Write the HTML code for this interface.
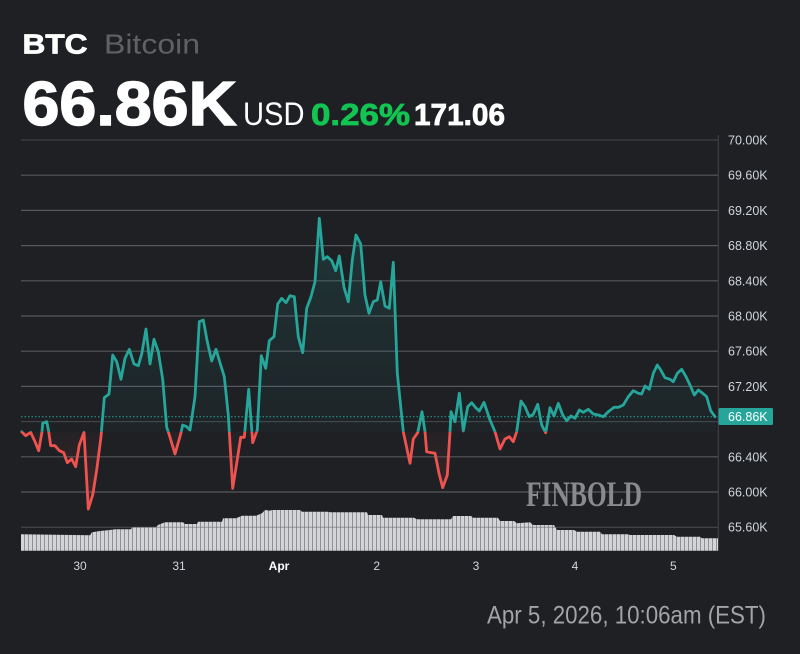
<!DOCTYPE html>
<html>
<head>
<meta charset="utf-8">
<style>
html,body{margin:0;padding:0;background:#1e2024;}
svg{display:block;}
</style>
</head>
<body>
<svg width="800" height="654" viewBox="0 0 800 654" xmlns="http://www.w3.org/2000/svg" font-family="'Liberation Sans', sans-serif">
<defs>
  <clipPath id="above"><rect x="0" y="0" width="800" height="431.7"/></clipPath>
  <clipPath id="below"><rect x="0" y="431.7" width="800" height="200"/></clipPath>
  <linearGradient id="gUp" gradientUnits="userSpaceOnUse" x1="0" y1="200" x2="0" y2="431.7">
    <stop offset="0" stop-color="#26a69a" stop-opacity="0.17"/>
    <stop offset="1" stop-color="#26a69a" stop-opacity="0.03"/>
  </linearGradient>
  <linearGradient id="gDn" gradientUnits="userSpaceOnUse" x1="0" y1="431.7" x2="0" y2="512">
    <stop offset="0" stop-color="#ef5350" stop-opacity="0.03"/>
    <stop offset="1" stop-color="#ef5350" stop-opacity="0.16"/>
  </linearGradient>
  <pattern id="vol" patternUnits="userSpaceOnUse" x="21" y="0" width="4" height="10">
    <rect x="0" y="0" width="4" height="10" fill="#8f9094"/>
    <rect x="0" y="0" width="3" height="10" fill="#d3d4d8"/>
  </pattern>
</defs>

<rect width="800" height="654" fill="#1e2024"/>

<!-- Header -->
<text x="22.5" y="53.3" font-size="28" font-weight="bold" fill="#ffffff" textLength="65" lengthAdjust="spacingAndGlyphs" stroke="#ffffff" stroke-width="0.8">BTC</text>
<text x="104" y="53.3" font-size="28" fill="#5f6165" textLength="96" lengthAdjust="spacingAndGlyphs">Bitcoin</text>
<text x="22.5" y="125" font-size="62" font-weight="bold" fill="#ffffff" textLength="214" lengthAdjust="spacingAndGlyphs" stroke="#ffffff" stroke-width="1.5">66.86K</text>
<text x="243" y="125" font-size="32" fill="#ffffff" textLength="61.5" lengthAdjust="spacingAndGlyphs">USD</text>
<text x="311" y="125" font-size="31" font-weight="bold" fill="#12c552" textLength="99" lengthAdjust="spacingAndGlyphs" stroke="#12c552" stroke-width="0.8">0.26%</text>
<text x="414" y="125" font-size="31" font-weight="bold" fill="#ffffff" textLength="91" lengthAdjust="spacingAndGlyphs" stroke="#ffffff" stroke-width="0.8">171.06</text>

<!-- Grid -->
<g stroke="#55575b" stroke-width="1.2">
  <line x1="21" y1="140" x2="718" y2="140" stroke="#3e4044"/>
  <line x1="21" y1="175.2" x2="718" y2="175.2"/>
  <line x1="21" y1="210.4" x2="718" y2="210.4"/>
  <line x1="21" y1="245.6" x2="718" y2="245.6"/>
  <line x1="21" y1="280.8" x2="718" y2="280.8"/>
  <line x1="21" y1="316" x2="718" y2="316"/>
  <line x1="21" y1="351.2" x2="718" y2="351.2"/>
  <line x1="21" y1="386.4" x2="718" y2="386.4"/>
  <line x1="21" y1="421.6" x2="718" y2="421.6" stroke="#404246"/>
  <line x1="21" y1="456.8" x2="718" y2="456.8"/>
  <line x1="21" y1="492" x2="718" y2="492"/>
</g>
<line x1="718.3" y1="135" x2="718.3" y2="551" stroke="#3e4044" stroke-width="1.2"/>

<!-- Watermark -->
<text x="526" y="506" font-family="'Liberation Serif', serif" font-size="36" font-weight="bold" fill="#8a8a8c" textLength="116" lengthAdjust="spacingAndGlyphs">FINBOLD</text>

<!-- Volume -->
<polygon fill="url(#vol)" points="21,550.7 21,534.3 90,535.3 92,532.3 100,531 110,530 115,529.3 131,529.3 132,527.3 156,527.3 158,525 165,522.3 183,522.3 185,524 197,524 198,521.7 222,521.7 223,518.3 236,518.3 242,515.7 256,515.7 262,513.3 265,510 272,511 270,510 300,510 302,511.7 328,511.7 330,512.3 367,512.3 368,515 382,515 383,517.7 414,517.7 417,519.3 451,519.3 453,516 471,516 473,517.7 498,517.7 500,521 514,521 517,523.3 530,522.3 533,525 554,525 557,530 574,530 577,531.7 600,531.7 602,534.3 628,534.3 630,535 674,535 677,536.7 700,536.7 702,538.3 718,538.3 718,550.7"/>
<line x1="21" y1="527.2" x2="718" y2="527.2" stroke="#6a6c70" stroke-width="1" opacity="0.6"/>

<!-- Fill areas -->
<polygon clip-path="url(#above)" fill="url(#gUp)" points="21.7,431.7 25.7,435.7 30.7,432.3 35,441.7 38.7,450.7 42,431.7 42.7,423.3 46.7,421.7 48.7,431.7 50.7,445.7 55,445.7 59.3,450.7 63.7,452.7 67.3,462.7 71.7,459 75.7,466.7 79.3,445 84,432.3 88.3,509 92.7,495 96.7,470 101,436.7 104.3,397.7 109,394 112.7,355 116.7,361.7 121,379.3 125,358.3 129.3,349.3 134,364 138.3,365.7 141.7,354 146,329 150,364 154,339.3 158.3,351.7 162.7,379.3 166.7,427.3 169,434 175,454 180.7,434 182.7,425 186.7,426.7 190,430 195,396.7 199.3,321.7 203.3,320 207.3,341.7 211.7,361 216,349.3 220.7,365 224.3,376.7 228.3,415 232.7,488.3 236.7,463.3 240.7,437.3 244.3,437.3 248.7,389.3 252.7,442.7 257.3,430 261.3,355.7 265.7,368.3 269.3,340.7 274,336.7 277.7,304 281.7,298.3 286,302.7 290,295.7 294.3,296.7 298.3,336.7 302.7,352.7 306.7,308.3 311,296.7 315,281.7 319.3,218.3 323.3,259.3 327.3,256.7 331.7,260.7 335.7,270.7 339.3,256 344,287.3 348.3,301.7 352.3,260 356,235 360.7,244 365,295 369,313.3 373.3,301.7 377.3,300 380.7,281.7 385,306 389.3,308.3 393.3,262.3 397.3,373.3 403.3,431.7 410,463.3 413.3,439 417.7,432.7 422,411.7 425,431.7 426.7,451.7 431.7,452.7 435,453.3 439,473.3 442.7,487.7 447.3,475 450,431.7 451,411.7 455,421.7 459.3,393.3 463.3,431 467.7,406.7 471.7,402.7 475.7,407.7 479.3,411 484,402.3 490,420 495,431.7 500,449 505,439 509.3,436.7 513.3,441.7 516.7,431.7 521,401 525,406.7 529.3,416.7 533.3,414.3 537.7,404.3 541.7,425 545.7,432.7 550,407.7 554,416 558.3,403.3 562.7,415 566.7,420.7 571,416 575,418.3 579.3,410 583.3,412.3 588.3,409.3 593.3,414 598.3,415 603.3,416.7 608.3,411.7 614,407.3 618.3,407.3 623.3,405 628.3,396.7 633.3,390.7 638.3,393.3 641.7,394 645,386 649.3,389.3 653.3,373.3 657.3,365 660.7,370 665,377.7 670,379.3 673.3,381.7 677.3,373.3 681.7,369.3 686,376.7 690,385 694.3,395 698.3,390 702.7,393.3 706.7,396.7 710.7,410.7 715,416.7 715,431.7"/>
<polygon clip-path="url(#below)" fill="url(#gDn)" points="21.7,431.7 25.7,435.7 30.7,432.3 35,441.7 38.7,450.7 42,431.7 42.7,423.3 46.7,421.7 48.7,431.7 50.7,445.7 55,445.7 59.3,450.7 63.7,452.7 67.3,462.7 71.7,459 75.7,466.7 79.3,445 84,432.3 88.3,509 92.7,495 96.7,470 101,436.7 104.3,397.7 109,394 112.7,355 116.7,361.7 121,379.3 125,358.3 129.3,349.3 134,364 138.3,365.7 141.7,354 146,329 150,364 154,339.3 158.3,351.7 162.7,379.3 166.7,427.3 169,434 175,454 180.7,434 182.7,425 186.7,426.7 190,430 195,396.7 199.3,321.7 203.3,320 207.3,341.7 211.7,361 216,349.3 220.7,365 224.3,376.7 228.3,415 232.7,488.3 236.7,463.3 240.7,437.3 244.3,437.3 248.7,389.3 252.7,442.7 257.3,430 261.3,355.7 265.7,368.3 269.3,340.7 274,336.7 277.7,304 281.7,298.3 286,302.7 290,295.7 294.3,296.7 298.3,336.7 302.7,352.7 306.7,308.3 311,296.7 315,281.7 319.3,218.3 323.3,259.3 327.3,256.7 331.7,260.7 335.7,270.7 339.3,256 344,287.3 348.3,301.7 352.3,260 356,235 360.7,244 365,295 369,313.3 373.3,301.7 377.3,300 380.7,281.7 385,306 389.3,308.3 393.3,262.3 397.3,373.3 403.3,431.7 410,463.3 413.3,439 417.7,432.7 422,411.7 425,431.7 426.7,451.7 431.7,452.7 435,453.3 439,473.3 442.7,487.7 447.3,475 450,431.7 451,411.7 455,421.7 459.3,393.3 463.3,431 467.7,406.7 471.7,402.7 475.7,407.7 479.3,411 484,402.3 490,420 495,431.7 500,449 505,439 509.3,436.7 513.3,441.7 516.7,431.7 521,401 525,406.7 529.3,416.7 533.3,414.3 537.7,404.3 541.7,425 545.7,432.7 550,407.7 554,416 558.3,403.3 562.7,415 566.7,420.7 571,416 575,418.3 579.3,410 583.3,412.3 588.3,409.3 593.3,414 598.3,415 603.3,416.7 608.3,411.7 614,407.3 618.3,407.3 623.3,405 628.3,396.7 633.3,390.7 638.3,393.3 641.7,394 645,386 649.3,389.3 653.3,373.3 657.3,365 660.7,370 665,377.7 670,379.3 673.3,381.7 677.3,373.3 681.7,369.3 686,376.7 690,385 694.3,395 698.3,390 702.7,393.3 706.7,396.7 710.7,410.7 715,416.7 715,431.7"/>

<!-- Current price dotted line -->
<line x1="21" y1="416.7" x2="718" y2="416.7" stroke="#26a69a" stroke-width="1" stroke-dasharray="1.5,2"/>

<!-- Line series (teal above baseline) -->
<polyline fill="none" stroke-width="2.8" stroke-linejoin="round" stroke-linecap="round" stroke="#26a69a" clip-path="url(#above)" points="21.7,431.7 25.7,435.7 30.7,432.3 35,441.7 38.7,450.7 42,431.7 42.7,423.3 46.7,421.7 48.7,431.7 50.7,445.7 55,445.7 59.3,450.7 63.7,452.7 67.3,462.7 71.7,459 75.7,466.7 79.3,445 84,432.3 88.3,509 92.7,495 96.7,470 101,436.7 104.3,397.7 109,394 112.7,355 116.7,361.7 121,379.3 125,358.3 129.3,349.3 134,364 138.3,365.7 141.7,354 146,329 150,364 154,339.3 158.3,351.7 162.7,379.3 166.7,427.3 169,434 175,454 180.7,434 182.7,425 186.7,426.7 190,430 195,396.7 199.3,321.7 203.3,320 207.3,341.7 211.7,361 216,349.3 220.7,365 224.3,376.7 228.3,415 232.7,488.3 236.7,463.3 240.7,437.3 244.3,437.3 248.7,389.3 252.7,442.7 257.3,430 261.3,355.7 265.7,368.3 269.3,340.7 274,336.7 277.7,304 281.7,298.3 286,302.7 290,295.7 294.3,296.7 298.3,336.7 302.7,352.7 306.7,308.3 311,296.7 315,281.7 319.3,218.3 323.3,259.3 327.3,256.7 331.7,260.7 335.7,270.7 339.3,256 344,287.3 348.3,301.7 352.3,260 356,235 360.7,244 365,295 369,313.3 373.3,301.7 377.3,300 380.7,281.7 385,306 389.3,308.3 393.3,262.3 397.3,373.3 403.3,431.7 410,463.3 413.3,439 417.7,432.7 422,411.7 425,431.7 426.7,451.7 431.7,452.7 435,453.3 439,473.3 442.7,487.7 447.3,475 450,431.7 451,411.7 455,421.7 459.3,393.3 463.3,431 467.7,406.7 471.7,402.7 475.7,407.7 479.3,411 484,402.3 490,420 495,431.7 500,449 505,439 509.3,436.7 513.3,441.7 516.7,431.7 521,401 525,406.7 529.3,416.7 533.3,414.3 537.7,404.3 541.7,425 545.7,432.7 550,407.7 554,416 558.3,403.3 562.7,415 566.7,420.7 571,416 575,418.3 579.3,410 583.3,412.3 588.3,409.3 593.3,414 598.3,415 603.3,416.7 608.3,411.7 614,407.3 618.3,407.3 623.3,405 628.3,396.7 633.3,390.7 638.3,393.3 641.7,394 645,386 649.3,389.3 653.3,373.3 657.3,365 660.7,370 665,377.7 670,379.3 673.3,381.7 677.3,373.3 681.7,369.3 686,376.7 690,385 694.3,395 698.3,390 702.7,393.3 706.7,396.7 710.7,410.7 715,416.7"/>
<!-- Line series (red below baseline) -->
<polyline fill="none" stroke-width="2.8" stroke-linejoin="round" stroke-linecap="round" stroke="#ef5350" clip-path="url(#below)" points="21.7,431.7 25.7,435.7 30.7,432.3 35,441.7 38.7,450.7 42,431.7 42.7,423.3 46.7,421.7 48.7,431.7 50.7,445.7 55,445.7 59.3,450.7 63.7,452.7 67.3,462.7 71.7,459 75.7,466.7 79.3,445 84,432.3 88.3,509 92.7,495 96.7,470 101,436.7 104.3,397.7 109,394 112.7,355 116.7,361.7 121,379.3 125,358.3 129.3,349.3 134,364 138.3,365.7 141.7,354 146,329 150,364 154,339.3 158.3,351.7 162.7,379.3 166.7,427.3 169,434 175,454 180.7,434 182.7,425 186.7,426.7 190,430 195,396.7 199.3,321.7 203.3,320 207.3,341.7 211.7,361 216,349.3 220.7,365 224.3,376.7 228.3,415 232.7,488.3 236.7,463.3 240.7,437.3 244.3,437.3 248.7,389.3 252.7,442.7 257.3,430 261.3,355.7 265.7,368.3 269.3,340.7 274,336.7 277.7,304 281.7,298.3 286,302.7 290,295.7 294.3,296.7 298.3,336.7 302.7,352.7 306.7,308.3 311,296.7 315,281.7 319.3,218.3 323.3,259.3 327.3,256.7 331.7,260.7 335.7,270.7 339.3,256 344,287.3 348.3,301.7 352.3,260 356,235 360.7,244 365,295 369,313.3 373.3,301.7 377.3,300 380.7,281.7 385,306 389.3,308.3 393.3,262.3 397.3,373.3 403.3,431.7 410,463.3 413.3,439 417.7,432.7 422,411.7 425,431.7 426.7,451.7 431.7,452.7 435,453.3 439,473.3 442.7,487.7 447.3,475 450,431.7 451,411.7 455,421.7 459.3,393.3 463.3,431 467.7,406.7 471.7,402.7 475.7,407.7 479.3,411 484,402.3 490,420 495,431.7 500,449 505,439 509.3,436.7 513.3,441.7 516.7,431.7 521,401 525,406.7 529.3,416.7 533.3,414.3 537.7,404.3 541.7,425 545.7,432.7 550,407.7 554,416 558.3,403.3 562.7,415 566.7,420.7 571,416 575,418.3 579.3,410 583.3,412.3 588.3,409.3 593.3,414 598.3,415 603.3,416.7 608.3,411.7 614,407.3 618.3,407.3 623.3,405 628.3,396.7 633.3,390.7 638.3,393.3 641.7,394 645,386 649.3,389.3 653.3,373.3 657.3,365 660.7,370 665,377.7 670,379.3 673.3,381.7 677.3,373.3 681.7,369.3 686,376.7 690,385 694.3,395 698.3,390 702.7,393.3 706.7,396.7 710.7,410.7 715,416.7"/>

<!-- Y axis labels -->
<g font-size="12.5" fill="#d1d4dc">
  <text x="728" y="144.5">70.00K</text>
  <text x="728" y="179.7">69.60K</text>
  <text x="728" y="214.9">69.20K</text>
  <text x="728" y="250.1">68.80K</text>
  <text x="728" y="285.3">68.40K</text>
  <text x="728" y="320.5">68.00K</text>
  <text x="728" y="355.7">67.60K</text>
  <text x="728" y="390.9">67.20K</text>
  <text x="728" y="461.3">66.40K</text>
  <text x="728" y="496.5">66.00K</text>
  <text x="728" y="531.7">65.60K</text>
</g>
<rect x="718.5" y="408" width="54.5" height="17" rx="1.5" fill="#26a69a"/>
<text x="728" y="421.2" font-size="12.5" fill="#ffffff">66.86K</text>

<!-- X axis labels -->
<g font-size="12" fill="#d1d4dc" text-anchor="middle">
  <text x="80" y="570">30</text>
  <text x="179" y="570">31</text>
  <text x="279" y="570" font-weight="bold" fill="#ffffff">Apr</text>
  <text x="376.7" y="570">2</text>
  <text x="476" y="570">3</text>
  <text x="575" y="570">4</text>
  <text x="673.3" y="570">5</text>
</g>

<!-- Date -->
<text x="487" y="623.3" font-size="25" fill="#a4a4a6" textLength="279" lengthAdjust="spacingAndGlyphs">Apr 5, 2026, 10:06am (EST)</text>
</svg>
</body>
</html>
